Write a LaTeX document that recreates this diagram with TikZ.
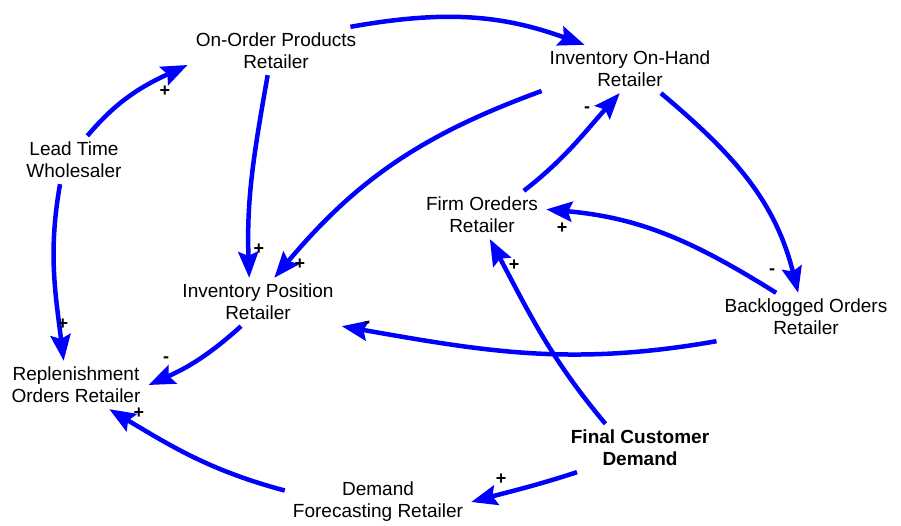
\documentclass[tikz,border=0pt]{standalone}
\usepackage{fontspec}
\setmainfont{Liberation Sans}
\usetikzlibrary{arrows.meta}
\newcommand{\varNode}{\node[align=center,inner xsep=8pt,inner ysep=6pt,font=\fontsize{19}{22}\selectfont]}
\newcommand{\signNode}{\node[font=\fontsize{18}{18}\selectfont\bfseries,inner sep=0pt]}
\tikzset{link/.style={draw=blue,line width=4.5pt,-{Stealth[length=26pt,width=20pt,inset=4pt]}}}

\begin{document}
\begin{tikzpicture}[x=1pt,y=1pt]

    \useasboundingbox (0,0) rectangle (901,525);

    \varNode (onorder) at (276,474) {On-Order Products\\Retailer};
    \varNode (onhand) at (630,456) {Inventory On-Hand\\Retailer};
    \varNode (leadtime) at (74,365) {Lead Time\\Wholesaler};
    \varNode (firm) at (482,310) {Firm Oreders\\Retailer};
    \varNode (invpos) at (258,223) {Inventory Position\\Retailer};
    \varNode (backlog) at (806,208) {Backlogged Orders\\Retailer};
    \varNode (replen) at (76,140) {Replenishment\\Orders Retailer};
    \varNode (final) at (640,77) {\bfseries Final Customer\\\bfseries Demand};
    \varNode (forecast) at (378,23) {Demand\\Forecasting Retailer};

    \draw[link] (onorder.18) to[out=10,in=160] (onhand.152);
    \draw[link] (leadtime.61) to[out=50,in=205] (onorder.189);
    \draw[link] (onorder.251) to[out=-100,in=92] (invpos.110);
    \draw[link] (onhand.194) to[out=200,in=50] (invpos.56);
    \draw[link] (firm.30) to[out=38,in=228] (onhand.247);
    \draw[link] (onhand.322) to[out=-40,in=104] (backlog.108);
    \draw[link] (backlog.141) to[out=148,in=-5] (firm.5);
    \draw[link] (backlog.south west) to[out=190,in=-10] (invpos.south east);
    \draw[link] (final.145) to[out=130,in=-62] (firm.288);
    \draw[link] (final.201) to[out=198,in=15] (forecast.0);
    \draw[link] (forecast.173) to[out=165,in=-31] (replen.324);
    \draw[link] (invpos.235) to[out=222,in=24] (replen.0);
    \draw[link] (leadtime.240) to[out=-100,in=97] (replen.117);

    \signNode (s1) at (165,434) {+};
    \signNode (s2) at (259,276) {+};
    \signNode (s3) at (300,261) {+};
    \signNode (s4) at (587,415) {-};
    \signNode (s5) at (772,253) {-};
    \signNode (s6) at (562,297) {+};
    \signNode (s7) at (367,200) {-};
    \signNode (s8) at (514,260) {+};
    \signNode (s9) at (501,46) {+};
    \signNode (s10) at (139,112) {+};
    \signNode (s11) at (166,165) {-};
    \signNode (s12) at (63,201) {+};

\end{tikzpicture}
\end{document}
